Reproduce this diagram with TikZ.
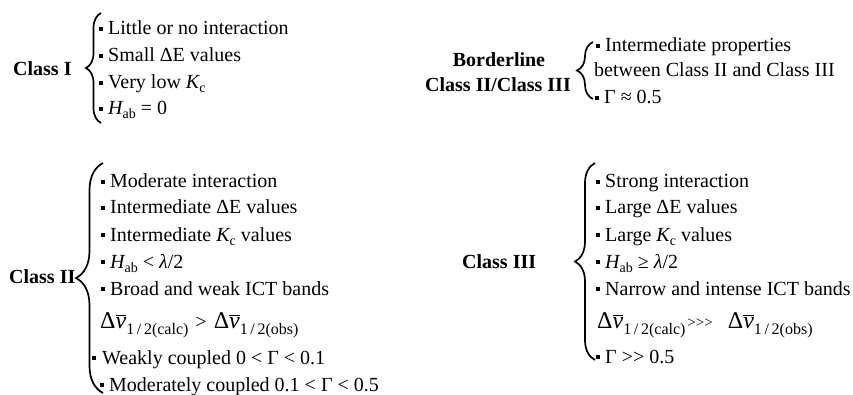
\documentclass[tikz,border=0pt]{standalone}
\usepackage{fontspec}
\setmainfont{Liberation Serif}
\usetikzlibrary{decorations.pathreplacing}
\newcommand{\mysub}[1]{\raisebox{-4pt}{\fontsize{14}{14}\selectfont #1}}
\newcommand{\bul}{\raisebox{4pt}{\rule{4pt}{4pt}}}
\newcommand{\gt}{\mbox{>}}
\newcommand{\vbar}{\ensuremath{\overline{\mbox{\itshape v}}}}
\newcommand{\dvb}[1]{{\fontsize{24}{24}\selectfont Δ\vbar}\raisebox{-6pt}{\fontsize{16}{16}\selectfont 1\,/\,2(#1)}}
\begin{document}
\begin{tikzpicture}[x=1pt,y=-1pt,
  font=\fontsize{20}{23}\selectfont,
  lab/.style={font=\fontsize{20}{23}\selectfont\bfseries, inner sep=0},
  item/.style={anchor=base west, inner sep=0},
  brc/.style={decorate, decoration={brace, amplitude=#1}, line width=1.7pt}]
\useasboundingbox (0,0) rectangle (853,395);
% Class I
\node[lab, anchor=base west] (c1) at (13,76) {Class I};
\draw[brc=15pt] (101,123) -- (101,13);
\node[item] (c1a) at (99,35) {\bul\ Little or no interaction};
\node[item] (c1b) at (99,62) {\bul\ Small ΔE values};
\node[item] (c1c) at (99,89) {\bul\ Very low {\itshape K}\mysub{c}};
\node[item] (c1d) at (99,115) {\bul\ {\itshape H}\mysub{ab} = 0};
% Borderline
\node[lab, anchor=base] (b1) at (499,67) {Borderline};
\node[lab, anchor=base] (b2) at (498,92) {Class II/Class III};
\draw[brc=16pt] (593,99) -- (593,42);
\node[item] (ba) at (596,52) {\bul\ Intermediate properties};
\node[item] (bb) at (594,77) {between Class II and Class III};
\node[item] (bc) at (595,104) {\bul\ Γ ≈ 0.5};
% Class II
\node[lab, anchor=base west] (c2) at (9,283) {Class II};
\draw[brc=27pt] (103,393) -- (103,163);
\node[item] (c2a) at (101,188) {\bul\ Moderate interaction};
\node[item] (c2b) at (101,214) {\bul\ Intermediate ΔE values};
\node[item] (c2c) at (101,241) {\bul\ Intermediate {\itshape K}\mysub{c} values};
\node[item] (c2d) at (101,268) {\bul\ {\itshape H}\mysub{ab} < {\itshape λ}/2};
\node[item] (c2e) at (101,295) {\bul\ Broad and weak ICT bands};
\node[item] (c2f) at (100,328) {\dvb{calc}\hspace{7pt}\gt\hspace{7pt}\dvb{obs}};
\node[item] (c2g) at (92,364) {\bul\hspace{6pt}Weakly coupled 0 < Γ < 0.1};
\node[item] (c2h) at (100,391) {\bul\ Moderately coupled 0.1 < Γ < 0.5};
% Class III
\node[lab, anchor=base west] (c3) at (462,268) {Class III};
\draw[brc=20pt] (595,360) -- (595,163);
\node[item] (c3a) at (596,188) {\bul\ Strong interaction};
\node[item] (c3b) at (596,214) {\bul\ Large ΔE values};
\node[item] (c3c) at (596,241) {\bul\ Large {\itshape K}\mysub{c} values};
\node[item] (c3d) at (596,268) {\bul\ {\itshape H}\mysub{ab} ≥ {\itshape λ}/2};
\node[item] (c3e) at (596,295) {\bul\ Narrow and intense ICT bands};
\node[item] (c3f) at (597,328) {\dvb{calc}\hspace{2pt}\raisebox{1pt}{\fontsize{15}{15}\selectfont\gt\gt\gt}\hspace{15pt}\dvb{obs}};
\node[item] (c3g) at (596,363) {\bul\ Γ \gt\gt\ 0.5};
\end{tikzpicture}
\end{document}
